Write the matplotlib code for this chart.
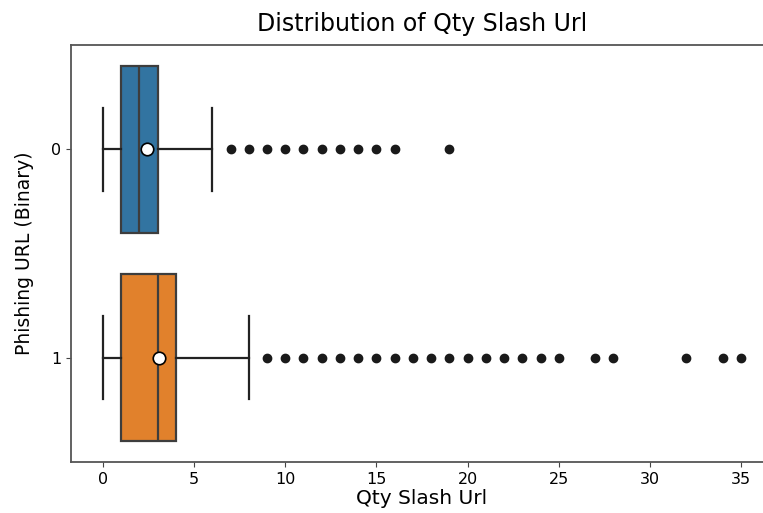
import matplotlib
matplotlib.use("Agg")
import matplotlib.pyplot as plt

# box statistics
labels = ["0", "1"]
q1 = [1, 1]
medians = [2, 3]
q3 = [3, 4]
whis_lo = [0, 0]
whis_hi = [6, 8]
means = [2.4, 3.1]
fliers_0 = [7, 8, 9, 10, 11, 12, 13, 14, 15, 16, 19]
fliers_1 = [9, 10, 11, 12, 13, 14, 15, 16, 17, 18, 19, 20, 21, 22, 23, 24, 25,
            27, 28, 32, 34, 35]
fliers = [fliers_0, fliers_1]
colors = ["#3274a1", "#e1812c"]

stats = []
for i in range(len(labels)):
    stats.append({
        "label": labels[i],
        "q1": q1[i], "med": medians[i], "q3": q3[i],
        "whislo": whis_lo[i], "whishi": whis_hi[i],
        "mean": means[i], "fliers": fliers[i],
    })

fig = plt.figure(figsize=(7.63, 5.13), dpi=100)
ax = fig.add_axes([71 / 763, 1 - 462 / 513, 702 / 763, 417 / 513])

line = "#3d3d3d"
bp = ax.bxp(stats, positions=[0, 1], widths=0.8, vert=False, patch_artist=True,
            showmeans=True,
            boxprops=dict(edgecolor=line, linewidth=1.6),
            medianprops=dict(color=line, linewidth=1.6),
            whiskerprops=dict(color="#222222", linewidth=1.6),
            capprops=dict(color="#222222", linewidth=1.6),
            flierprops=dict(marker="o", markerfacecolor="#1a1a1a", markeredgecolor="#1a1a1a",
                            markersize=6),
            meanprops=dict(marker="o", markerfacecolor="white", markeredgecolor="black",
                           markersize=9, markeredgewidth=1.2))
for patch, c in zip(bp["boxes"], colors):
    patch.set_facecolor(c)

ax.set_xlim(-1.75, 36.75)
ax.set_ylim(1.5, -0.5)
ax.set_xticks([0, 5, 10, 15, 20, 25, 30, 35])
ax.set_yticks([0, 1])
ax.set_yticklabels(labels)
ax.tick_params(labelsize=11.5, color="#444444")
for s in ax.spines.values():
    s.set_color("#555555")
    s.set_linewidth(1.3)

ax.set_title("Distribution of Qty Slash Url", fontsize=17, pad=10)
ax.set_xlabel("Qty Slash Url", fontsize=14.5, labelpad=2)
ax.set_ylabel("Phishing URL (Binary)", fontsize=13.5, labelpad=12)

fig.savefig("out.png", dpi=100)
